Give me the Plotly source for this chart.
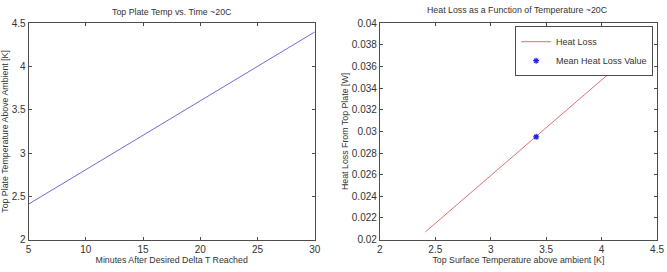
import plotly.graph_objects as go

# Left panel data
minutes = [5, 30]
plate_temp = [2.41, 4.40]

# Right panel data
surf_temp = [2.41, 3.41, 4.40]
heat_loss = [0.0207, 0.0295, 0.0383]
mean_temp = [3.41]
mean_loss = [0.0295]

left_xticks = [5, 10, 15, 20, 25, 30]
left_yticks = [2, 2.5, 3, 3.5, 4, 4.5]
right_xticks = [2, 2.5, 3, 3.5, 4, 4.5]
right_yticks = [0.02, 0.022, 0.024, 0.026, 0.028, 0.03, 0.032, 0.034, 0.036, 0.038, 0.04]

W, H = 667, 272
FONT = "Liberation Sans, Arial, sans-serif"
AX = "#4d4d4d"
TXT = "#333"

fig = go.Figure()
fig.add_trace(go.Scatter(x=minutes, y=plate_temp, mode="lines",
                         line=dict(color="#6b6bdc", width=1), showlegend=False,
                         xaxis="x", yaxis="y"))
fig.add_trace(go.Scatter(x=surf_temp, y=heat_loss, mode="lines", name="Heat Loss",
                         line=dict(color="#e07070", width=1), xaxis="x2", yaxis="y2"))
fig.add_trace(go.Scatter(x=mean_temp, y=mean_loss, mode="markers", name="Mean Heat Loss Value",
                         marker=dict(symbol="asterisk-open", color="#2020e0", size=5,
                                     line=dict(color="#2020e0", width=1.2)),
                         xaxis="x2", yaxis="y2"))

def ax(domain, rng, ticks, anchor, title, standoff):
    return dict(domain=domain, range=rng, tickvals=ticks,
                ticktext=[("%g" % t) for t in ticks], anchor=anchor,
                showgrid=False, zeroline=False, showline=True, linecolor=AX, linewidth=1,
                mirror="ticks", ticks="inside", ticklen=3, tickcolor=AX,
                tickfont=dict(family=FONT, size=10, color=TXT),
                title=dict(text=title, font=dict(family=FONT, size=8.8, color=TXT),
                           standoff=standoff))

yd = [1 - 243.5 / H, 1 - 19 / H]
fig.update_layout(
    width=W, height=H, margin=dict(l=0, r=0, t=0, b=0),
    paper_bgcolor="white", plot_bgcolor="white",
    xaxis=ax([26 / W, 316 / W], [5, 30], left_xticks, "y",
             "Minutes After Desired Delta T Reached", 3),
    yaxis=ax(yd, [2, 4.5], left_yticks, "x",
             "Top Plate Temperature Above Ambient [K]", 3),
    xaxis2=ax([382 / W, 663 / W], [2, 4.5], right_xticks, "y2",
              "Top Surface Temperature above ambient [K]", 3),
    yaxis2=ax(yd, [0.02, 0.04], right_yticks, "x2",
              "Heat Loss From Top Plate [W]", 1),
    legend=dict(x=659 / W, y=1 - 22 / H, xanchor="right", yanchor="top",
                bgcolor="white", bordercolor=AX, borderwidth=1,
                font=dict(family=FONT, size=9, color=TXT),
                tracegroupgap=0, itemwidth=30),
    annotations=[
        dict(text="Top Plate Temp vs. Time ~20C", x=171 / W, y=1 - 7 / H,
             xref="paper", yref="paper", xanchor="center", yanchor="middle",
             showarrow=False, font=dict(family=FONT, size=8.8, color=TXT)),
        dict(text="Heat Loss as a Function of Temperature ~20C", x=522 / W, y=1 - 5.5 / H,
             xref="paper", yref="paper", xanchor="center", yanchor="middle",
             showarrow=False, font=dict(family=FONT, size=8.8, color=TXT)),
    ],
)

fig.write_html("out.html")
